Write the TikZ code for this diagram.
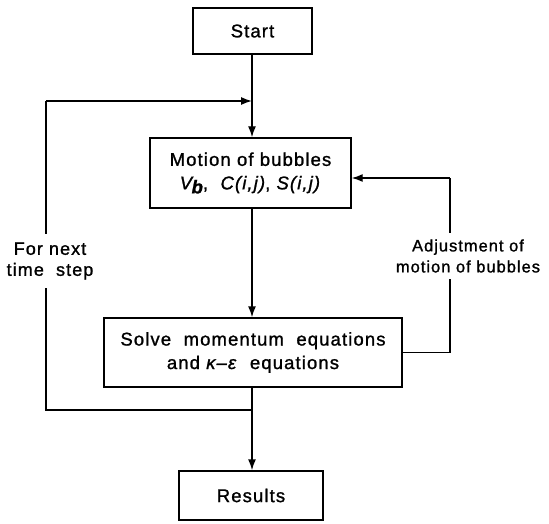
\documentclass[tikz,border=0pt]{standalone}
\usepackage{fontspec}
\setmainfont{Liberation Sans}[LetterSpace=6,FakeBold=1.2]
\usetikzlibrary{arrows.meta}
\begin{document}
\begin{tikzpicture}[x=1pt,y=-1pt,
  box/.style={draw,line width=1.4pt,align=center,inner sep=0pt,font=\fontsize{18.5}{23.5}\selectfont},
  lbl/.style={fill=white,align=center,inner sep=1pt,font=\fontsize{18}{21}\selectfont},
  flow/.style={line width=1.4pt},
  arr/.style={flow,-{Latex[length=11pt,width=8pt]}}]
\useasboundingbox (0,0) rectangle (549,524);
\node[box,minimum width=119pt,minimum height=46pt] (start) at (252.5,31) {Start};
\node[box,minimum width=201pt,minimum height=70pt] (motion) at (250.5,173)
  {Motion of bubbles\\\textit{V\kern-0.5pt\raisebox{-4pt}{\textbf{b}}},\ \ \textit{C(i,j)}, \textit{S(i,j)}};
\node[box,minimum width=298pt,minimum height=69pt] (solve) at (253,352.5)
  {Solve\ \ momentum\ \ equations\\and \textit{κ–ε}\ \ equations};
\node[box,minimum width=144pt,minimum height=49pt] (results) at (251,495.5) {Results};
\coordinate (trunk) at (252,0);
\coordinate (jl) at (trunk |- 0,410);
\coordinate (cl) at (46,410);
\coordinate (tl) at (46,101);
\coordinate (tt) at (trunk |- 0,101);
\coordinate (rr) at (450,352.5);
\coordinate (rt) at (450,178);
\coordinate (me) at (motion.east |- 0,178);
% trunk
\draw[arr] (trunk |- start.south) -- (trunk |- motion.north);
\draw[arr] (trunk |- motion.south) -- (trunk |- solve.north);
\draw[arr] (trunk |- solve.south) -- (trunk |- results.north);
% left loop
\draw[flow] (jl) -- (cl) -- (tl);
\draw[arr] (tl) -- (tt);
\node[lbl,inner ysep=8pt] (lnext) at (50,261) {For next\\time\ \ step};
% right loop
\draw[flow] (solve.east |- rr) -- (rr) -- (rt);
\draw[arr] (rt) -- (me);
\node[lbl,inner ysep=6pt,font=\fontsize{16.5}{21}\selectfont] (ladj) at (468,256) {Adjustment of\\motion of bubbles};
\end{tikzpicture}
\end{document}
